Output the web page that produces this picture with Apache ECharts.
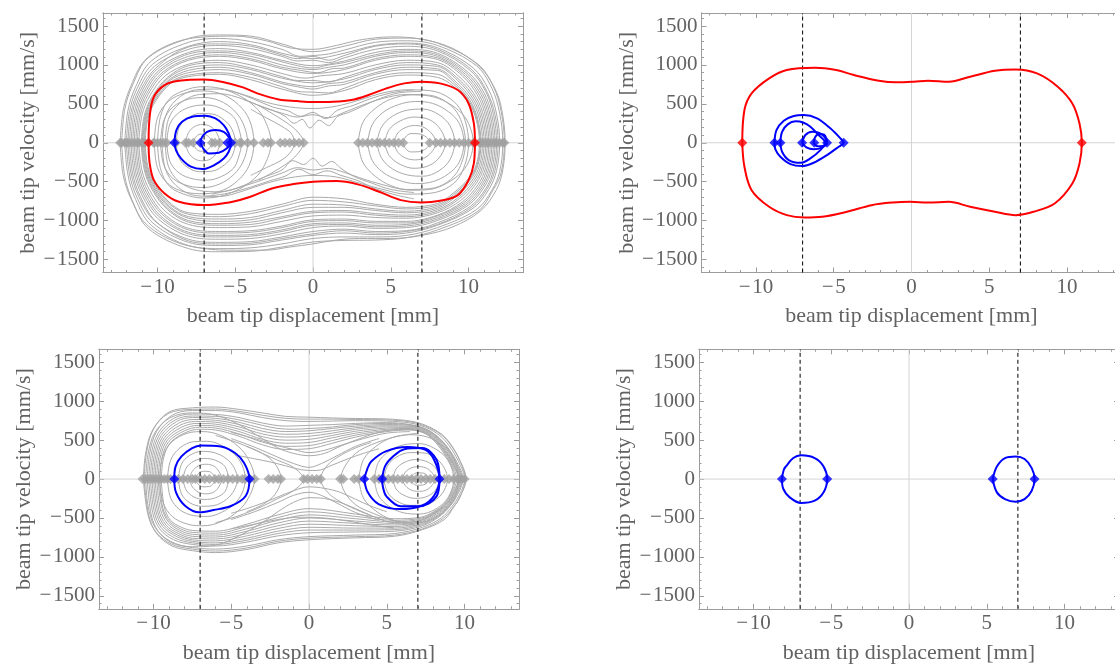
<!DOCTYPE html>
<html><head><meta charset="utf-8">
<script src="https://cdn.jsdelivr.net/npm/echarts@6/dist/echarts.min.js"></script>
<style>html,body{margin:0;padding:0;background:#fff}#c{width:1115px;height:666px}</style>
</head><body><div id="c"></div>
<script>
// ---------- axis ranges & ticks ----------
const X_RANGE = [-13.5, 13.5];
const Y_RANGE = [-1667, 1667];
const xMajor = [-10, -5, 0, 5, 10];
const xMinor = [-13,-12,-11,-9,-8,-7,-6,-4,-3,-2,-1,1,2,3,4,6,7,8,9,11,12,13];
const yMajor = [-1500,-1000,-500,0,500,1000,1500];
const yMinor = [-1600,-1400,-1300,-1200,-1100,-900,-800,-700,-600,-400,-300,-200,-100,100,200,300,400,600,700,800,900,1100,1200,1300,1400,1600];
const wellLines = [-7, 7];
const xTitle = 'beam tip displacement [mm]';
const yTitle = 'beam tip velocity [mm/s]';

// ---------- panel 1 (top-left) ----------
const gray1 = [
[[-12.4,0],[-12.2,420],[-11.7,730],[-10.8,1060],[-9,1280],[-7,1360],[-5,1370],[-3,1310],[-1.5,1220],[0,1200],[1.5,1250],[3,1320],[5,1360],[7,1330],[9,1210],[10.8,960],[11.8,650],[12.2,350],[12.35,0],[12.2,-350],[11.8,-600],[10.8,-870],[9,-1080],[7,-1190],[5,-1230],[3,-1230],[1.5,-1250],[0,-1300],[-1.5,-1340],[-3,-1380],[-5,-1380],[-7,-1360],[-9,-1260],[-10.8,-1030],[-11.7,-720],[-12.2,-420],[-12.4,0]],
[[-12.3,0],[-12.1,430],[-11.6,740],[-10.6,1090],[-8,1340],[-6,1385],[-4,1370],[-2,1270],[0,1170],[2,1240],[4,1330],[6,1345],[8,1280],[10.6,1010],[11.6,720],[12.1,400],[12.3,0],[12.1,-380],[11.6,-600],[10.6,-880],[8,-1120],[6,-1220],[4,-1250],[2,-1255],[0,-1275],[-2,-1340],[-4,-1395],[-6,-1400],[-8,-1360],[-10.6,-1100],[-11.6,-750],[-12.1,-430],[-12.3,0]],
[[-12.1,0],[-11.9,410],[-11.4,720],[-10.4,1050],[-8,1290],[-6,1340],[-4,1300],[-2,1200],[-0.8,1110],[0,1120],[1,1140],[2,1190],[4,1290],[6,1310],[8,1250],[10.5,990],[11.5,700],[12,380],[12.2,0],[12,-370],[11.5,-610],[10.5,-860],[8,-1090],[6,-1190],[4,-1210],[2,-1210],[0,-1230],[-2,-1300],[-4,-1350],[-6,-1360],[-8,-1320],[-10.4,-1060],[-11.4,-730],[-11.9,-410],[-12.1,0]],
[[-12,0],[-11.8,400],[-11.3,700],[-10.3,1010],[-8,1240],[-6,1300],[-4,1260],[-2,1150],[0,1080],[2,1150],[4,1250],[6,1280],[8,1220],[10.3,960],[11.3,680],[11.8,370],[12,0],[11.8,-360],[11.3,-600],[10.3,-840],[8,-1060],[6,-1160],[4,-1180],[2,-1160],[0,-1190],[-2,-1250],[-4,-1310],[-6,-1320],[-8,-1280],[-10.3,-1030],[-11.3,-710],[-11.8,-400],[-12,0]],
[[-11.9,0],[-11.7,390],[-11.2,680],[-10.2,980],[-8,1200],[-6,1250],[-4,1210],[-2,1110],[-1,1050],[0,1060],[1,1030],[2,1090],[4,1200],[6,1240],[8,1180],[10.1,930],[11.1,660],[11.6,360],[11.8,0],[11.6,-350],[11.1,-590],[10.1,-820],[8,-1030],[6,-1130],[4,-1140],[2,-1110],[0,-1140],[-2,-1210],[-4,-1270],[-6,-1280],[-8,-1240],[-10.2,-1000],[-11.2,-690],[-11.7,-390],[-11.9,0]],
[[-11.8,0],[-11.6,390],[-11.1,670],[-10.1,960],[-8,1230],[-6,1270],[-4,1240],[-2,1130],[-1,1080],[0,1110],[1,1060],[2,1120],[4,1240],[6,1270],[8,1200],[10.2,940],[11.2,650],[11.7,360],[11.9,0],[11.7,-350],[11.2,-590],[10.2,-830],[8,-1050],[6,-1140],[4,-1160],[2,-1130],[0,-1170],[-2,-1230],[-4,-1290],[-6,-1300],[-8,-1260],[-10.1,-1010],[-11.1,-690],[-11.6,-390],[-11.8,0]],
[[-11.7,0],[-11.5,380],[-11,660],[-10,950],[-8,1160],[-6,1210],[-4,1160],[-2,1060],[0,990],[2,1050],[4,1160],[6,1200],[8,1150],[10,900],[11,640],[11.5,350],[11.7,0],[11.5,-340],[11,-570],[10,-800],[8,-1000],[6,-1090],[4,-1100],[2,-1070],[0,-1090],[-2,-1170],[-4,-1230],[-6,-1240],[-8,-1200],[-10,-970],[-11,-670],[-11.5,-380],[-11.7,0]],
[[-11.6,0],[-11.4,375],[-10.9,650],[-9.9,930],[-8,1140],[-6,1180],[-4,1140],[-2,1040],[-1,990],[0,960],[1,1000],[2,1030],[4,1130],[6,1180],[8,1130],[9.9,890],[10.9,630],[11.4,345],[11.6,0],[11.4,-335],[10.9,-565],[9.9,-790],[8,-980],[6,-1070],[4,-1080],[2,-1050],[0,-1060],[-2,-1140],[-4,-1200],[-6,-1210],[-8,-1170],[-9.9,-950],[-10.9,-660],[-11.4,-375],[-11.6,0]],
[[-11.5,0],[-11.3,370],[-10.8,640],[-9.8,920],[-8,1110],[-6,1160],[-4,1110],[-2,1000],[-1,960],[0,940],[1,970],[2,1000],[4,1110],[6,1160],[8,1110],[9.8,880],[10.8,620],[11.3,340],[11.5,0],[11.3,-330],[10.8,-560],[9.8,-780],[8,-960],[6,-1050],[4,-1060],[2,-1030],[0,-1040],[-2,-1120],[-4,-1180],[-6,-1190],[-8,-1150],[-9.8,-940],[-10.8,-650],[-11.3,-370],[-11.5,0]],
[[-11.4,0],[-11.2,365],[-10.7,630],[-9.7,900],[-8,1080],[-6,1130],[-4,1080],[-2,970],[-0.8,930],[0.3,900],[1.2,950],[2,960],[4,1080],[6,1130],[8,1090],[9.7,870],[10.7,610],[11.2,335],[11.4,0],[11.2,-325],[10.7,-550],[9.7,-770],[8,-940],[6,-1030],[4,-1030],[2,-1000],[0,-1010],[-2,-1090],[-4,-1150],[-6,-1160],[-8,-1120],[-9.7,-920],[-10.7,-640],[-11.2,-365],[-11.4,0]],
[[-11.3,0],[-11.1,360],[-10.6,620],[-9.6,890],[-8,1060],[-6,1110],[-4,1060],[-2,950],[0,890],[2,940],[4,1060],[6,1110],[8,1070],[9.6,860],[10.6,600],[11.1,330],[11.3,0],[11.1,-320],[10.6,-540],[9.6,-760],[8,-930],[6,-1010],[4,-1010],[2,-980],[0,-990],[-2,-1070],[-4,-1130],[-6,-1140],[-8,-1100],[-9.6,-910],[-10.6,-630],[-11.1,-360],[-11.3,0]],
[[-11.2,0],[-11,350],[-10.5,600],[-9.5,860],[-8,1010],[-6,1060],[-4,1000],[-2,890],[-0.5,830],[0.5,860],[2,890],[4,1000],[6,1060],[8,1030],[9.5,830],[10.5,580],[11,320],[11.2,0],[11,-310],[10.5,-520],[9.5,-740],[8,-900],[6,-970],[4,-960],[2,-930],[0,-940],[-2,-1010],[-4,-1080],[-6,-1090],[-8,-1050],[-9.5,-880],[-10.5,-610],[-11,-350],[-11.2,0]],
[[-11.05,0],[-10.85,345],[-10.35,590],[-9.35,840],[-8,990],[-6,1030],[-4,960],[-2,850],[-1,800],[0,800],[1,780],[2,840],[4,960],[6,1030],[8,1000],[9.4,810],[10.4,570],[10.9,315],[11.1,0],[10.9,-305],[10.4,-510],[9.4,-720],[8,-880],[6,-950],[4,-930],[2,-890],[0,-900],[-2,-970],[-4,-1050],[-6,-1060],[-8,-1020],[-9.35,-860],[-10.35,-600],[-10.85,-345],[-11.05,0]],
[[-11,0],[-10.8,340],[-10.3,580],[-9.3,830],[-8,960],[-6,1000],[-4,940],[-2,830],[0,770],[2,820],[4,940],[6,1000],[8,980],[9.3,800],[10.3,560],[10.8,310],[11,0],[10.8,-300],[10.3,-500],[9.3,-710],[8,-860],[6,-930],[4,-910],[2,-870],[0,-880],[-2,-950],[-4,-1020],[-6,-1040],[-8,-1000],[-9.3,-850],[-10.3,-590],[-10.8,-340],[-11,0]],
[[-10.95,0],[-10.75,335],[-10.25,570],[-9.25,810],[-8,930],[-6,970],[-4,900],[-2,780],[-1,740],[0,720],[1,760],[2,780],[4,900],[6,970],[8,950],[9.2,780],[10.2,550],[10.7,305],[10.9,0],[10.7,-295],[10.2,-490],[9.2,-690],[8,-840],[6,-900],[4,-870],[2,-830],[0,-830],[-2,-900],[-4,-990],[-6,-1010],[-8,-970],[-9.25,-830],[-10.25,-580],[-10.75,-335],[-10.95,0]],
[[-10.9,0],[-10.7,330],[-10.2,560],[-9.2,800],[-8,900],[-6,940],[-4,880],[-2,760],[-1,720],[0,690],[1,730],[2,750],[4,880],[6,940],[8,930],[9.1,770],[10.1,540],[10.6,300],[10.8,0],[10.6,-290],[10.1,-480],[9.1,-680],[8,-820],[6,-880],[4,-850],[2,-800],[0,-790],[-2,-870],[-4,-960],[-6,-980],[-8,-950],[-9.2,-820],[-10.2,-570],[-10.7,-330],[-10.9,0]],
[[-10.85,0],[-10.65,325],[-10.15,550],[-9.15,780],[-8,870],[-6,900],[-4,840],[-2,720],[-1,660],[0,650],[1,640],[2,700],[4,840],[6,900],[8,880],[9.05,750],[10.05,530],[10.55,295],[10.75,0],[10.55,-285],[10.05,-470],[9.05,-665],[8,-800],[6,-850],[4,-810],[2,-760],[0,-740],[-2,-820],[-4,-910],[-6,-950],[-8,-920],[-9.15,-800],[-10.15,-560],[-10.65,-325],[-10.85,0]],
[[-10.8,0],[-10.6,320],[-10.1,540],[-9.1,770],[-8,850],[-6,880],[-4,810],[-2,690],[0,610],[2,670],[4,810],[6,870],[8,840],[9,730],[10,520],[10.5,290],[10.7,0],[10.5,-280],[10,-460],[9,-650],[8,-780],[6,-830],[4,-790],[2,-720],[0,-700],[-2,-790],[-4,-880],[-6,-920],[-8,-900],[-9.1,-790],[-10.1,-550],[-10.6,-320],[-10.8,0]],
[[-9.7,0],[-9.5,330],[-8.8,550],[-7.5,680],[-6,690],[-4.5,620],[-3,520],[-1.5,460],[0,440],[1.5,470],[3,550],[4.5,640],[6,680],[7.5,670],[8.8,570],[9.6,380],[10,0],[9.6,-370],[8.8,-560],[7.5,-650],[6,-660],[4.5,-600],[3,-520],[1.5,-440],[0,-420],[-1.5,-450],[-3,-520],[-4.5,-620],[-6,-690],[-7.5,-680],[-8.8,-550],[-9.5,-330],[-9.7,0]],
[[-9.5,0],[-9.3,300],[-8.6,500],[-7.3,620],[-6,630],[-4.5,560],[-3,440],[-2,380],[-1,330],[0,360],[1,320],[2,390],[3,470],[4.5,570],[6,620],[7.5,610],[8.6,520],[9.4,340],[9.8,0],[9.4,-330],[8.6,-510],[7.5,-590],[6,-600],[4.5,-540],[3,-450],[2,-380],[1,-330],[0,-350],[-1,-320],[-2,-390],[-3,-460],[-4.5,-560],[-6,-630],[-7.3,-615],[-8.6,-500],[-9.3,-300],[-9.5,0]],
[[-10.2,0],[-10,320],[-9.3,530],[-8.2,640],[-7,665],[-5.8,620],[-4.8,490],[-4.1,300],[-3.8,0],[-4.1,-290],[-4.8,-480],[-5.8,-610],[-7,-655],[-8.2,-635],[-9.3,-530],[-10,-320],[-10.2,0]],
[[-9.8,0],[-9.6,280],[-9,460],[-8,560],[-7,580],[-6,540],[-5.1,420],[-4.5,250],[-4.2,0],[-4.5,-245],[-5.1,-410],[-6,-530],[-7,-575],[-8,-555],[-9,-460],[-9.6,-280],[-9.8,0]],
[[-9.4,0],[-9.2,240],[-8.6,390],[-7.7,470],[-6.8,485],[-5.9,440],[-5.1,330],[-4.8,200],[-4.6,0],[-4.8,-195],[-5.1,-325],[-5.9,-435],[-6.8,-480],[-7.7,-465],[-8.6,-390],[-9.2,-240],[-9.4,0]],
[[-8.8,0],[-8.6,200],[-8.1,310],[-7.3,375],[-6.5,370],[-5.7,290],[-5.2,170],[-5,0],[-5.2,-170],[-5.7,-285],[-6.5,-365],[-7.3,-372],[-8.1,-310],[-8.6,-200],[-8.8,0]],
[[-8.2,0],[-8,130],[-7.6,210],[-7.1,235],[-6.6,210],[-6.2,130],[-6,0],[-6.2,-130],[-6.6,-210],[-7.1,-232],[-7.6,-208],[-8,-128],[-8.2,0]],
[[-7.7,0],[-7.55,70],[-7.25,110],[-6.95,105],[-6.65,65],[-6.5,0],[-6.65,-65],[-6.95,-105],[-7.25,-108],[-7.55,-70],[-7.7,0]],
[[-10,0],[-9.8,340],[-9.2,570],[-8,690],[-7,720],[-6,700],[-5,630],[-4,510],[-3.2,330],[-2.7,0],[-3.2,-320],[-4,-500],[-5,-620],[-6,-690],[-7,-710],[-8,-680],[-9.2,-565],[-9.8,-335],[-10,0]],
[[2.9,0],[3.2,260],[4,440],[5,560],[6.3,615],[7.5,600],[8.6,520],[9.6,370],[10.1,200],[10.3,0],[10.1,-200],[9.6,-370],[8.6,-520],[7.5,-600],[6.3,-610],[5,-550],[4,-430],[3.2,-250],[2.9,0]],
[[3.5,0],[3.8,230],[4.5,390],[5.5,490],[6.6,530],[7.7,505],[8.7,400],[9.4,250],[9.7,0],[9.4,-250],[8.7,-400],[7.7,-500],[6.6,-525],[5.5,-480],[4.5,-380],[3.8,-225],[3.5,0]],
[[4.1,0],[4.4,200],[5.1,340],[6.1,420],[7.1,432],[8.1,360],[8.8,220],[9.1,0],[8.8,-220],[8.1,-360],[7.1,-430],[6.1,-415],[5.1,-335],[4.4,-195],[4.1,0]],
[[4.6,0],[4.9,170],[5.6,280],[6.5,330],[7.5,295],[8.2,170],[8.5,0],[8.2,-170],[7.5,-290],[6.5,-328],[5.6,-278],[4.9,-165],[4.6,0]],
[[5.2,0],[5.45,125],[6,200],[6.6,222],[7.2,190],[7.7,100],[7.9,0],[7.7,-100],[7.2,-190],[6.6,-220],[6,-200],[5.45,-122],[5.2,0]],
[[5.8,0],[5.95,75],[6.3,118],[6.8,115],[7.3,70],[7.5,0],[7.3,-70],[6.8,-115],[6.3,-118],[5.95,-75],[5.8,0]],
[[-4.5,560],[-3.5,480],[-2.5,410],[-1.8,340],[-1.2,250],[-0.7,300],[-0.2,190],[0.4,290],[1,220],[1.6,340],[2.3,390],[3.2,470],[4.2,560],[5.5,640],[7,660]],
[[-6,700],[-5,650],[-3.8,560],[-2.6,460],[-1.6,410],[-0.8,340],[0,390],[0.8,310],[1.6,420],[2.6,480],[3.6,560],[5,640],[6.5,680]],
[[6.5,-640],[5,-600],[3.8,-520],[2.6,-430],[1.8,-330],[1.2,-240],[0.6,-300],[0,-200],[-0.6,-280],[-1.3,-230],[-2,-350],[-3,-430],[-4,-510],[-5,-590],[-6.5,-660]],
[[6.5,-720],[5.5,-680],[4,-590],[2.8,-480],[1.8,-420],[0.9,-360],[0,-410],[-0.9,-340],[-1.8,-430],[-2.8,-490],[-4,-570],[-5.5,-650],[-7,-690]],
[[-4,430],[-3,320],[-2,210],[-1.4,120],[-1.2,0],[-1.4,-110],[-2,-220],[-3,-320],[-4,-420]],
[[-3.5,480],[-2.5,360],[-1.5,230],[-0.9,120],[-0.6,0],[-0.9,-120],[-1.5,-240],[-2.5,-370],[-3.5,-480]]
];
const graySeeds1 = [-12.4,-12.3,-12.1,-12.0,-11.9,-11.7,-11.5,-11.3,-11.2,-11.0,-10.9,-10.8,-10.25,-10.2,-10.0,-9.8,-9.6,-9.4,-8.8,-8.2,-8.0,-7.7,-6.5,-6.3,-6.0,-5.0,-4.7,-4.6,-4.2,-3.8,-3.2,-2.9,-2.7,-2.1,-1.8,-1.5,-1.2,-0.9,-0.6,2.9,3.2,3.5,3.8,4.1,4.3,4.6,4.9,5.2,5.5,5.8,7.5,7.9,8.2,8.5,8.8,9.1,9.4,9.7,10.0,10.3,10.7,10.8,11.0,11.2,11.3,11.5,11.7,11.8,12.0,12.2,12.3];
const red1 = [[-10.57,0],[-10.5,334],[-10.23,591],[-9.54,741],[-8.62,797],[-6.97,814],[-5.87,784],[-4.5,711],[-3.58,634],[-2.2,557],[-1.03,535],[0,522],[1.27,527],[2.65,557],[3.57,613],[4.72,699],[5.87,763],[6.97,784],[8.16,763],[9.31,677],[10.0,505],[10.34,248],[10.41,0],[10.34,-266],[10.0,-480],[9.31,-673],[8.16,-746],[6.97,-767],[5.64,-737],[4.26,-630],[2.88,-535],[1.5,-493],[0,-501],[-1.26,-531],[-2.64,-587],[-4.02,-694],[-5.17,-758],[-6.32,-793],[-6.97,-801],[-8.62,-758],[-9.54,-651],[-10.23,-480],[-10.5,-266],[-10.57,0]];
const redSeeds1 = [-10.57, 10.41];
const blue1 = [
[[-8.91,0],[-8.78,163],[-8.42,270],[-7.77,334],[-6.92,347],[-6.27,313],[-5.74,227],[-5.42,121],[-5.26,0],[-5.42,-116],[-5.74,-201],[-6.35,-287],[-7.1,-338],[-7.85,-308],[-8.49,-201],[-8.81,-94],[-8.91,0]],
[[-7.24,0],[-7.13,74],[-6.81,141],[-6.27,163],[-5.74,141],[-5.42,74],[-5.31,0],[-5.53,-72],[-6.06,-128],[-6.7,-137],[-7.06,-72],[-7.24,0]]
];
const blueSeeds1 = [-8.91, -7.24, -5.5, -5.26];

// ---------- panel 2 (top-right) ----------
const red2 = [[-10.88,0],[-10.74,420],[-10.28,634],[-9.15,827],[-8.02,934],[-6.2,964],[-4.84,934],[-3.7,870],[-2.1,797],[-0.99,776],[0.15,784],[1.06,797],[2.4,784],[3.77,848],[5.36,925],[6.7,942],[8.07,891],[9.4,720],[10.34,505],[10.8,248],[10.95,0],[10.8,-266],[10.34,-523],[9.2,-780],[7.84,-887],[6.7,-930],[5.36,-887],[3.77,-823],[2.4,-759],[1.06,-768],[-0.08,-759],[-1.2,-768],[-2.57,-802],[-4.16,-887],[-5.75,-951],[-6.88,-960],[-8.02,-930],[-9.15,-823],[-10.28,-609],[-10.74,-309],[-10.88,0]];
const redSeeds2 = [-10.88, 10.95];
const blue2 = [
[[-8.81,0],[-8.68,163],[-8.21,283],[-7.57,343],[-6.93,356],[-6.07,313],[-5.22,185],[-4.57,56],[-4.36,0],[-4.68,-51],[-5.43,-158],[-6.29,-257],[-7.03,-299],[-7.78,-274],[-8.43,-180],[-8.75,-85],[-8.81,0]],
[[-8.43,0],[-8.32,141],[-7.96,236],[-7.46,275],[-6.93,257],[-6.5,206],[-5.97,99],[-5.54,0],[-5.86,-94],[-6.5,-201],[-7.14,-257],[-7.89,-222],[-8.32,-116],[-8.43,0]],
[[-7.03,0],[-6.82,99],[-6.39,141],[-5.97,128],[-5.6,77],[-5.43,0],[-5.75,-60],[-6.29,-85],[-6.76,-60],[-7.03,0]],
[[-6.29,0],[-6.2,70],[-5.95,112],[-5.62,105],[-5.43,0],[-5.7,-40],[-6.05,-45],[-6.29,0]]
];
const blueSeeds2 = [-8.81, -8.43, -7.03, -6.25, -5.43, -4.36];

// ---------- panel 3 (bottom-left) ----------
const gray3 = [
[[-10.65,0],[-10.5,335],[-10.05,630],[-9.05,840],[-7.5,895],[-6,900],[-4.5,870],[-3,820],[-1.5,780],[0,770],[1.5,770],[3,765],[5,760],[6.5,735],[7.5,680],[8.5,570],[9.1,440],[9.7,235],[10.05,0],[9.7,-235],[9.3,-355],[8.6,-510],[7.3,-640],[5.5,-720],[3,-740],[0,-760],[-2,-800],[-4,-885],[-6,-925],[-7.5,-900],[-8.8,-840],[-9.8,-690],[-10.35,-460],[-10.65,0]],
[[-10.6,0],[-10.45,330],[-10,640],[-9,860],[-7.5,915],[-6,925],[-4.5,895],[-3,850],[-1.5,805],[0,795],[1.5,785],[3,778],[5,772],[6.5,745],[7.5,690],[8.5,580],[9.1,450],[9.7,240],[10.1,0],[9.7,-230],[9.3,-360],[8.7,-520],[7.3,-650],[5.5,-735],[3,-755],[0,-780],[-2,-820],[-4,-905],[-6,-945],[-7.5,-920],[-8.8,-860],[-9.8,-700],[-10.3,-470],[-10.6,0]],
[[-10.4,0],[-10.25,320],[-9.8,610],[-8.8,820],[-7.5,880],[-6,880],[-4.5,850],[-3,790],[-1.5,750],[0,740],[1.5,745],[3,750],[5,745],[6.5,720],[7.5,665],[8.4,560],[9,430],[9.6,230],[10,0],[9.6,-230],[9.2,-350],[8.5,-500],[7.3,-620],[5.5,-700],[3,-720],[0,-740],[-2,-780],[-4,-860],[-6,-900],[-7.5,-880],[-8.8,-820],[-9.7,-670],[-10.15,-450],[-10.4,0]],
[[-10.3,0],[-10.15,310],[-9.7,590],[-8.7,780],[-7.5,835],[-6,830],[-4.5,790],[-3,720],[-1.5,680],[0,690],[1.5,700],[3,715],[5,725],[6.5,700],[7.5,645],[8.3,540],[8.9,410],[9.5,220],[9.9,0],[9.5,-220],[9.1,-340],[8.4,-480],[7.3,-600],[5.5,-670],[3,-680],[0,-690],[-2,-730],[-4,-810],[-6,-860],[-7.5,-840],[-8.7,-780],[-9.6,-640],[-10.05,-430],[-10.3,0]],
[[-10.2,0],[-10.05,305],[-9.6,575],[-8.6,760],[-7.5,810],[-6,805],[-4.5,760],[-3,690],[-2,650],[-1,640],[0,650],[1,660],[2,680],[3,700],[5,715],[6.5,695],[7.5,640],[8.3,535],[8.9,400],[9.45,215],[9.85,0],[9.45,-215],[9.05,-340],[8.35,-475],[7.3,-585],[5.5,-650],[3,-655],[0,-655],[-2,-700],[-4,-785],[-6,-840],[-7.5,-820],[-8.6,-760],[-9.5,-625],[-9.95,-420],[-10.2,0]],
[[-10.1,0],[-9.95,300],[-9.5,560],[-8.5,740],[-7.5,790],[-6,780],[-4.5,730],[-3,650],[-1.5,610],[0,620],[1.5,650],[3,680],[5,700],[6.5,690],[7.5,640],[8.3,530],[8.9,390],[9.4,215],[9.8,0],[9.4,-215],[9,-340],[8.3,-470],[7.3,-570],[5.5,-630],[3,-630],[0,-620],[-2,-670],[-4,-760],[-6,-820],[-7.5,-800],[-8.5,-740],[-9.4,-610],[-9.85,-410],[-10.1,0]],
[[-10,0],[-9.85,295],[-9.4,545],[-8.4,715],[-7.4,765],[-6,755],[-4.5,700],[-3,615],[-1.5,575],[0,585],[1.5,620],[3,660],[5,685],[6.5,680],[7.5,630],[8.25,525],[8.85,380],[9.35,212],[9.75,0],[9.35,-212],[8.95,-340],[8.25,-460],[7.3,-555],[5.5,-610],[3,-600],[0,-580],[-2,-635],[-4,-730],[-6,-795],[-7.5,-780],[-8.45,-720],[-9.3,-600],[-9.75,-405],[-10,0]],
[[-9.9,0],[-9.75,290],[-9.3,530],[-8.3,690],[-7.3,740],[-6,730],[-4.5,670],[-3,580],[-1.5,540],[0,550],[1.5,590],[3,640],[5,670],[6.5,670],[7.5,620],[8.2,520],[8.8,370],[9.3,210],[9.7,0],[9.3,-210],[8.9,-340],[8.2,-450],[7.3,-540],[5.5,-590],[3,-570],[0,-540],[-2,-600],[-4,-700],[-6,-770],[-7.5,-760],[-8.4,-700],[-9.2,-590],[-9.65,-400],[-9.9,0]],
[[-9.8,0],[-9.65,285],[-9.2,515],[-8.2,665],[-7.2,715],[-6,705],[-4.5,640],[-3,545],[-1.5,500],[0,510],[1.5,560],[3,615],[5,655],[6.5,660],[7.5,610],[8.15,515],[8.75,365],[9.25,205],[9.65,0],[9.25,-205],[8.85,-335],[8.15,-440],[7.3,-525],[5.5,-570],[3,-540],[0,-500],[-2,-565],[-4,-670],[-6,-745],[-7.5,-735],[-8.35,-680],[-9.1,-575],[-9.55,-390],[-9.8,0]],
[[-9.7,0],[-9.55,280],[-9.1,500],[-8.1,640],[-7.1,690],[-6,680],[-4.5,610],[-3,510],[-1.5,460],[0,470],[1.5,530],[3,590],[5,640],[6.5,650],[7.5,600],[8.1,510],[8.7,360],[9.2,200],[9.6,0],[9.2,-200],[8.8,-330],[8.1,-430],[7.3,-510],[5.5,-550],[3,-510],[0,-460],[-2,-530],[-4,-640],[-6,-720],[-7.5,-710],[-8.3,-660],[-9,-560],[-9.45,-380],[-9.7,0]],
[[-9.6,0],[-9.45,275],[-9,485],[-8,620],[-7.05,665],[-6,655],[-4.5,580],[-3,475],[-1.5,420],[0,430],[1.5,495],[3,565],[5,625],[6.5,640],[7.45,595],[8.05,505],[8.65,355],[9.15,195],[9.5,0],[9.15,-195],[8.75,-325],[8.05,-425],[7.25,-500],[5.5,-530],[3,-480],[0,-420],[-2,-495],[-4,-610],[-6,-695],[-7.5,-685],[-8.25,-640],[-8.95,-545],[-9.4,-370],[-9.6,0]],
[[-9.5,0],[-9.35,270],[-8.9,470],[-7.9,600],[-7,640],[-6,630],[-4.5,550],[-3,440],[-1.5,380],[0,390],[1.5,460],[3,540],[5,610],[6.5,630],[7.4,590],[8,500],[8.6,350],[9.1,190],[9.4,0],[9.1,-190],[8.7,-320],[8,-420],[7.2,-490],[5.5,-510],[3,-450],[0,-380],[-2,-460],[-4,-580],[-6,-670],[-7.5,-660],[-8.2,-620],[-8.9,-530],[-9.3,-360],[-9.5,0]],
[[-10.5,0],[-10.35,320],[-9.9,600],[-8.9,790],[-7.5,850],[-6,820],[-4.5,700],[-3,520],[-2,400],[-1,330],[0,300],[1,330],[2,420],[3,500],[4.5,600],[6,640],[7.2,610],[8,520],[8.7,370],[9.3,190],[9.6,0],[9.3,-190],[8.8,-330],[8,-450],[7,-540],[5.5,-560],[4,-470],[3,-380],[2,-300],[1,-250],[0,-240],[-1,-300],[-2,-420],[-3,-560],[-4.5,-730],[-6,-850],[-7.5,-870],[-8.9,-800],[-9.9,-620],[-10.35,-340],[-10.5,0]],
[[-9.6,0],[-9.4,290],[-8.8,480],[-7.8,590],[-6.8,610],[-5.8,570],[-4.8,460],[-4,290],[-3.5,0],[-4,-280],[-4.8,-450],[-5.8,-560],[-6.8,-600],[-7.8,-580],[-8.8,-480],[-9.4,-290],[-9.6,0]],
[[-9.1,0],[-8.9,240],[-8.3,400],[-7.4,480],[-6.5,485],[-5.6,430],[-4.8,320],[-4.3,180],[-4.1,0],[-4.3,-180],[-4.8,-320],[-5.6,-425],[-6.5,-480],[-7.4,-470],[-8.3,-395],[-8.9,-240],[-9.1,0]],
[[-8.4,0],[-8.2,190],[-7.7,300],[-6.9,355],[-6.1,340],[-5.3,260],[-4.8,140],[-4.6,0],[-4.8,-140],[-5.3,-260],[-6.1,-340],[-6.9,-350],[-7.7,-300],[-8.2,-190],[-8.4,0]],
[[-8.1,0],[-7.9,140],[-7.4,230],[-6.7,265],[-6,240],[-5.4,160],[-5.2,0],[-5.4,-160],[-6,-240],[-6.7,-262],[-7.4,-230],[-7.9,-140],[-8.1,0]],
[[-7.7,0],[-7.5,100],[-7.1,170],[-6.6,190],[-6.1,165],[-5.8,100],[-5.6,0],[-5.8,-100],[-6.1,-165],[-6.6,-190],[-7.1,-170],[-7.5,-100],[-7.7,0]],
[[-7.3,0],[-7.15,60],[-6.8,100],[-6.4,95],[-6.15,55],[-6.05,0],[-6.15,-55],[-6.4,-95],[-6.8,-100],[-7.15,-60],[-7.3,0]],
[[3.2,0],[3.5,250],[4.3,420],[5.3,530],[6.5,570],[7.6,540],[8.6,430],[9.3,270],[9.6,0],[9.3,-270],[8.6,-430],[7.6,-540],[6.5,-565],[5.3,-520],[4.3,-410],[3.5,-245],[3.2,0]],
[[4.2,0],[4.45,210],[5.1,350],[6.1,440],[7.1,455],[8.1,390],[8.9,250],[9.3,0],[8.9,-250],[8.1,-390],[7.1,-450],[6.1,-435],[5.1,-345],[4.45,-205],[4.2,0]],
[[4.8,0],[5.05,170],[5.6,280],[6.5,340],[7.4,335],[8.2,260],[8.7,140],[8.9,0],[8.7,-140],[8.2,-260],[7.4,-335],[6.5,-338],[5.6,-278],[5.05,-168],[4.8,0]],
[[5.4,0],[5.6,130],[6.1,210],[6.8,250],[7.5,230],[8.1,150],[8.4,0],[8.1,-150],[7.5,-230],[6.8,-248],[6.1,-208],[5.6,-128],[5.4,0]],
[[6,0],[6.2,90],[6.6,145],[7.1,160],[7.6,135],[7.95,70],[8.1,0],[7.95,-70],[7.6,-135],[7.1,-158],[6.6,-143],[6.2,-88],[6,0]],
[[6.5,0],[6.65,50],[6.95,80],[7.3,78],[7.6,45],[7.7,0],[7.6,-45],[7.3,-78],[6.95,-80],[6.65,-50],[6.5,0]],
[[-5,600],[-3.5,520],[-2,430],[-1,380],[0,340],[1,370],[2,430],[3.5,520],[5,590],[6.5,610]],
[[-6,560],[-4.5,460],[-3,330],[-2,240],[-1,150],[-0.35,0],[-1,-150],[-2,-250],[-3,-350],[-4.5,-470],[-6,-560]],
[[7,-600],[5.5,-540],[4,-430],[3,-330],[2.3,-170],[2.05,0],[2.3,160],[3,330],[4,440],[5.5,540],[7,590]],
[[-4.5,300],[-3.5,260],[-2.5,220],[-1.5,170],[-0.5,120],[0.5,110],[1.5,180],[2.5,260],[3.5,330],[4.5,390]],
[[5,-420],[4,-350],[3,-260],[2,-170],[1,-120],[0,-100],[-1,-150],[-2,-230],[-3,-310],[-4,-380],[-5,-440]],
[[-5,-640],[-3.5,-580],[-2,-520],[-0.5,-490],[1,-500],[2.5,-540],[4,-590],[5.5,-630]],
[[4,-470],[3,-390],[2,-290],[1.2,-170],[0.75,0],[1.2,180],[2,300],[3,400],[4,470]],
[[-4,-420],[-3,-330],[-2.2,-200],[-1.8,0],[-2.2,200],[-3,330],[-4,420]],
[[-5,520],[-3.5,410],[-2,280],[-1,200],[0,150],[0.8,200],[1.8,300],[3,420],[4.5,520]],
[[4.5,-530],[3,-430],[1.8,-310],[0.8,-210],[0,-170],[-1,-210],[-2,-300],[-3.5,-420],[-5,-520]]
];
const graySeeds3 = [-10.7,-10.5,-10.3,-10.1,-9.9,-9.7,-9.5,-9.3,-9.1,-8.9,-8.4,-8.1,-7.8,-7.5,-7.3,-7.0,-6.7,-6.4,-6.05,-5.8,-5.5,-5.2,-4.9,-4.6,-4.3,-4.1,-3.8,-3.5,-2.6,-2.3,-2.0,-1.8,-0.35,-0.1,0.2,0.5,0.75,2.0,2.2,2.9,3.2,4.2,4.5,4.8,5.1,5.4,5.7,6.0,6.3,6.6,6.9,7.2,7.5,7.8,8.1,8.4,8.7,9.0,9.3,9.6,9.8,10.0];
const blue3 = [
[[-8.66,0],[-8.58,160],[-8.2,291],[-7.51,398],[-6.94,432],[-5.67,419],[-4.75,334],[-4.17,205],[-3.83,0],[-4.06,-214],[-4.98,-343],[-6.13,-398],[-7.05,-428],[-7.97,-343],[-8.55,-171],[-8.66,0]],
[[3.55,0],[3.75,130],[4.0,225],[4.93,355],[6.31,411],[7.46,377],[8.04,248],[8.39,0],[8.04,-214],[7.24,-343],[5.86,-386],[4.47,-321],[3.78,-171],[3.55,0]],
[[4.7,0],[4.9,170],[5.4,290],[6.13,384],[7.28,398],[8.2,248],[8.39,0],[8.2,-222],[7.05,-351],[5.9,-351],[4.98,-222],[4.75,-100],[4.7,0]]
];
const blueSeeds3 = [-8.66, -3.83, 3.55, 4.7, 8.39];

// ---------- panel 4 (bottom-right) ----------
const blue4 = [
[[-8.17,0],[-8.05,120],[-7.9,165],[-7.44,270],[-6.94,305],[-6.06,270],[-5.49,162],[-5.26,0],[-5.49,-171],[-6.06,-278],[-6.94,-308],[-7.67,-235],[-8.08,-128],[-8.17,0]],
[[5.38,0],[5.65,162],[6.17,270],[6.86,291],[7.43,257],[7.89,141],[8.07,0],[7.89,-150],[7.43,-257],[6.86,-291],[6.17,-257],[5.65,-171],[5.38,0]]
];
const blueSeeds4 = [-8.17, -5.26, 5.38, 8.07];

// ---------- styling ----------
const FONT = "'Liberation Serif','Times New Roman',serif";
const TXT = '#626262', FRAME = '#9c9c9c', GRAY = '#aaaaaa', GRAYPT = '#a0a0a0';
const RED = '#ff0000', BLUE = '#0000ff';

const panels = [
  {rect:{left:103, top:13, width:420, height:259.5}, gray:gray1, graySeeds:graySeeds1, red:[red1], redSeeds:redSeeds1, blue:blue1, blueSeeds:blueSeeds1},
  {rect:{left:701.5, top:13, width:420, height:259.5}, gray:[], graySeeds:[], red:[red2], redSeeds:redSeeds2, blue:blue2, blueSeeds:blueSeeds2},
  {rect:{left:99, top:349.3, width:420, height:259.5}, gray:gray3, graySeeds:graySeeds3, red:[], redSeeds:[], blue:blue3, blueSeeds:blueSeeds3},
  {rect:{left:699, top:349.3, width:420, height:259.5}, gray:[], graySeeds:[], red:[], redSeeds:[], blue:blue4, blueSeeds:blueSeeds4}
];

const fmt = v => (v < 0 ? '\u2212\u200A' + (-v) : String(v));
const labelStyle = {color:TXT, fontFamily:FONT, fontSize:21};

function mkAxis(dim, gi, pos, ticks, len, main) {
  const range = dim === 'x' ? X_RANGE : Y_RANGE;
  const ax = {
    type:'value', gridIndex:gi, position:pos, min:range[0], max:range[1],
    axisLine:{show:true, onZero:false, lineStyle:{color:FRAME, width:1}},
    axisTick:{show:true, inside:true, length:len, customValues:ticks, lineStyle:{color:FRAME, width:1}},
    axisLabel:{show:main, customValues:ticks, formatter:fmt, margin:4, ...labelStyle},
    splitLine:{show:false}, minorTick:{show:false}, splitArea:{show:false}
  };
  if (main) {
    ax.name = dim === 'x' ? xTitle : yTitle;
    ax.nameLocation = 'middle';
    ax.nameGap = dim === 'x' ? 33 : 63;
    ax.nameTextStyle = {color:TXT, fontFamily:FONT, fontSize:22};
  }
  return ax;
}

const grids = [], xAxes = [], yAxes = [], series = [];
const base = {silent:true, animation:false};

panels.forEach((p, i) => {
  grids.push({...p.rect, containLabel:false, outerBoundsMode:'none'});
  const xi = xAxes.length, yi = yAxes.length;
  xAxes.push(mkAxis('x', i, 'bottom', xMajor, 5, true));
  xAxes.push(mkAxis('x', i, 'bottom', xMinor, 2.5, false));
  xAxes.push(mkAxis('x', i, 'top', xMajor, 5, false));
  xAxes.push(mkAxis('x', i, 'top', xMinor, 2.5, false));
  yAxes.push(mkAxis('y', i, 'left', yMajor, 5, true));
  yAxes.push(mkAxis('y', i, 'left', yMinor, 2.5, false));
  yAxes.push(mkAxis('y', i, 'right', yMajor, 5, false));
  yAxes.push(mkAxis('y', i, 'right', yMinor, 2.5, false));
  const ax = {xAxisIndex:xi, yAxisIndex:yi};
  // zero grid lines
  [[[0, Y_RANGE[0]], [0, Y_RANGE[1]]], [[X_RANGE[0], 0], [X_RANGE[1], 0]]].forEach(d =>
    series.push({type:'line', ...ax, ...base, data:d, symbol:'none', z:1, lineStyle:{color:'#d4d4d4', width:1}}));
  // gray trajectories
  p.gray.forEach(c => series.push({type:'line', ...ax, ...base, data:c, symbol:'none', smooth:0.35, z:2,
    lineStyle:{color:GRAY, width:1}}));
  if (p.graySeeds.length) series.push({type:'scatter', ...ax, ...base, data:p.graySeeds.map(x => [x, 0]),
    symbol:'diamond', symbolSize:10, itemStyle:{color:GRAYPT}, z:3});
  // dashed well lines
  wellLines.forEach(w => series.push({type:'line', ...ax, ...base, data:[[w, Y_RANGE[0]], [w, Y_RANGE[1]]],
    symbol:'none', z:4, lineStyle:{color:'#000', width:1, type:[4, 3]}}));
  // red & blue orbits
  p.red.forEach(c => series.push({type:'line', ...ax, ...base, data:c, symbol:'none', smooth:0.35, z:5,
    lineStyle:{color:RED, width:2}}));
  p.blue.forEach(c => series.push({type:'line', ...ax, ...base, data:c, symbol:'none', smooth:0.35, z:5,
    lineStyle:{color:BLUE, width:2}}));
  if (p.redSeeds.length) series.push({type:'scatter', ...ax, ...base, data:p.redSeeds.map(x => [x, 0]),
    symbol:'diamond', symbolSize:10, itemStyle:{color:RED}, z:6});
  if (p.blueSeeds.length) series.push({type:'scatter', ...ax, ...base, data:p.blueSeeds.map(x => [x, 0]),
    symbol:'diamond', symbolSize:10, itemStyle:{color:BLUE}, z:6});
});

const chart = echarts.init(document.getElementById('c'), null, {renderer:'canvas'});
chart.setOption({
  animation:false, backgroundColor:'#fff',
  grid:grids, xAxis:xAxes, yAxis:yAxes, series
});
</script></body></html>
